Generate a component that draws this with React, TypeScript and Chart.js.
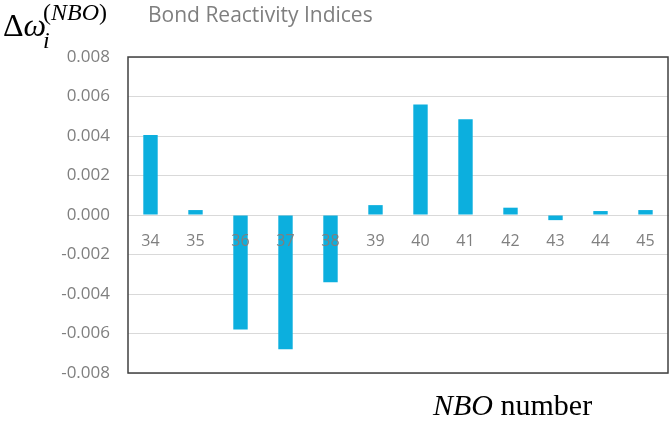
import React, { useEffect, useRef } from "react";
import { Chart, registerables } from "chart.js";

Chart.register(...registerables);

const categories: string[] = ["34", "35", "36", "37", "38", "39", "40", "41", "42", "43", "44", "45"];
const reactivityValues: number[] = [0.00405, 0.00025, -0.0058, -0.0068, -0.0034, 0.0005, 0.0056, 0.00485, 0.00037, -0.00026, 0.0002, 0.00025];
const yMin = -0.008;
const yMax = 0.008;
const yStep = 0.002;
const chartTitle = "Bond Reactivity Indices";

const plotBorder = {
  id: "plotBorder",
  afterDraw(chart: any) {
    const { ctx, chartArea } = chart;
    ctx.save();
    ctx.strokeStyle = "#404040";
    ctx.lineWidth = 1.5;
    ctx.strokeRect(chartArea.left, chartArea.top, chartArea.right - chartArea.left, chartArea.bottom - chartArea.top);
    ctx.restore();
  },
};

export default function App() {
  const canvasRef = useRef<HTMLCanvasElement | null>(null);

  useEffect(() => {
    if (!canvasRef.current) return;
    const chart = new Chart(canvasRef.current, {
      type: "bar",
      data: {
        labels: categories,
        datasets: [
          {
            data: reactivityValues,
            backgroundColor: "#0cafde",
            borderWidth: 0,
            categoryPercentage: 1,
            barPercentage: 0.32,
          },
        ],
      },
      options: {
        animation: false,
        responsive: false,
        maintainAspectRatio: false,
        layout: { padding: { top: 57, right: 4, bottom: 50, left: 0 } },
        plugins: {
          legend: { display: false },
          title: { display: false },
          tooltip: { enabled: false },
        },
        scales: {
          x: {
            position: { y: 0 } as any,
            grid: { display: false, drawTicks: false },
            border: { display: true, color: "#d9d9d9", width: 1 },
            ticks: {
              z: 1,
              color: "#7f7f7f",
              font: { family: "Open Sans", size: 16 },
              padding: 17,
              maxRotation: 0,
            },
            afterFit: (s: any) => {
              s.height = 0;
            },
          },
          y: {
            min: yMin,
            max: yMax,
            grid: { color: "#d9d9d9", drawTicks: false },
            border: { display: false },
            ticks: {
              stepSize: yStep,
              color: "#7f7f7f",
              font: { family: "Open Sans", size: 17 },
              padding: 18,
              callback: (v: any) => (Math.abs(Number(v)) < 1e-9 ? "0.000" : Number(v).toFixed(3)),
            },
            afterFit: (s: any) => {
              s.width = 128;
            },
          },
        },
      },
      plugins: [plotBorder],
    });
    return () => chart.destroy();
  }, []);

  const abs = (o: React.CSSProperties): React.CSSProperties => ({ position: "absolute", whiteSpace: "nowrap", lineHeight: 1, margin: 0, ...o });

  return (
    <div style={{ position: "absolute", left: 0, top: 0, width: 672, height: 423, background: "#fff", overflow: "hidden" }}>
      <canvas ref={canvasRef} width={672} height={423} style={{ position: "absolute", left: 0, top: 0, width: 672, height: 423 }} />
      <div style={abs({ left: 148, top: 4, fontFamily: "Open Sans", fontSize: 21, color: "#7f7f7f" })}>{chartTitle}</div>
      <div style={abs({ left: 3, top: 9, fontFamily: "Liberation Serif", fontSize: 32, color: "#000" })}>Δ<i>ω</i></div>
      <div style={abs({ left: 43, top: 0, fontFamily: "Liberation Serif", fontSize: 24, color: "#000" })}>
        (<i>NBO</i>)
      </div>
      <div style={abs({ left: 43, top: 28, fontFamily: "Liberation Serif", fontSize: 24, fontStyle: "italic", color: "#000" })}>i</div>
      <div style={abs({ left: 433, top: 390, fontFamily: "Liberation Serif", fontSize: 30, color: "#000" })}>
        <i>NBO</i> number
      </div>
    </div>
  );
}
